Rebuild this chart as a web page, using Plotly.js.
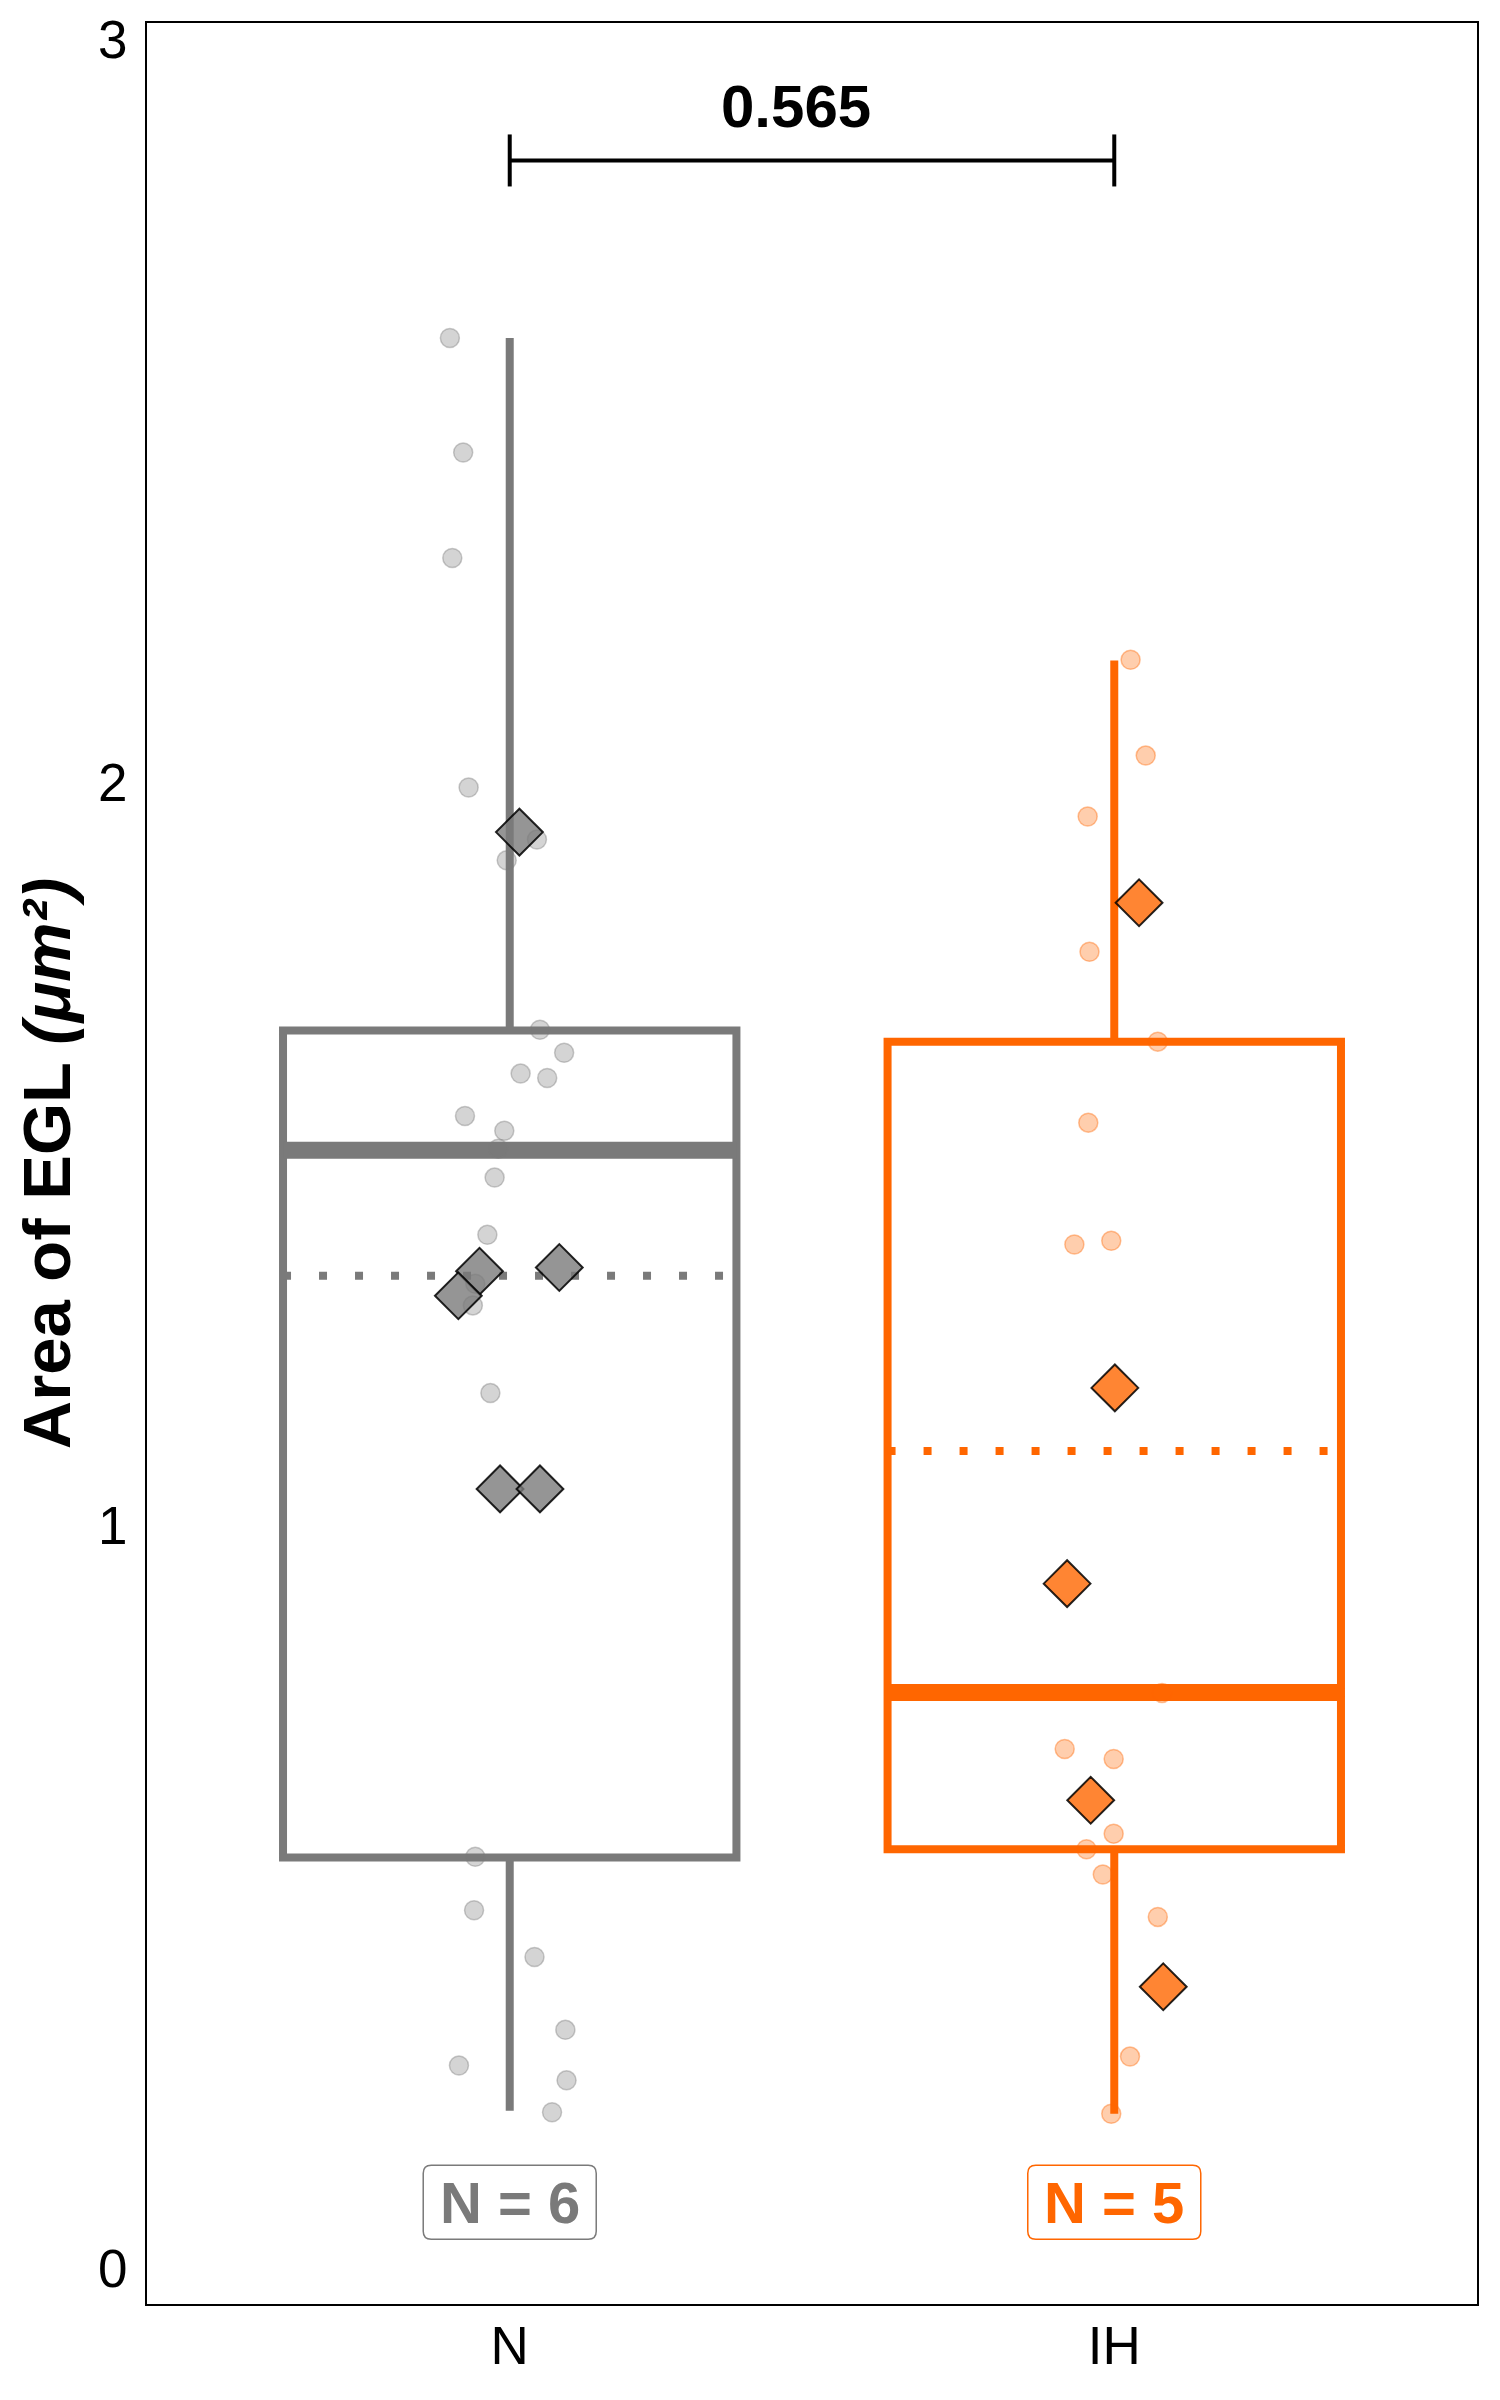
<!DOCTYPE html>
<html>
<head>
<meta charset="utf-8">
<script src="https://cdn.plot.ly/plotly-3.0.1.min.js"></script>
<style>html,body{margin:0;padding:0;background:#fff;}</style>
</head>
<body>
<div id="chart" style="width:1500px;height:2400px;"></div>
<script>
// ---------------- data ----------------
const categories = ['N', 'IH'];
const nLabels = ['N = 6', 'N = 5'];
const pValueText = '0.565';

// box statistics
const boxQ1     = [0.553, 0.564];
const boxMedian = [1.505, 0.775];
const boxQ3     = [1.666, 1.651];
const boxLower  = [0.212, 0.208];
const boxUpper  = [2.598, 2.164];
const boxMean   = [1.336, 1.100];

// individual measurements (grey / peach dots): value and horizontal jitter
const obsN_y  = [2.598, 2.444, 2.302, 1.993, 1.923, 1.895, 1.667, 1.636, 1.608, 1.602, 1.551, 1.531, 1.507,
                 1.468, 1.391, 1.325, 1.296, 1.178, 0.554, 0.482, 0.419, 0.321, 0.273, 0.253, 0.210];
const obsN_dx = [-0.099, -0.077, -0.095, -0.068, 0.045, -0.005, 0.050, 0.090, 0.018, 0.062, -0.074, -0.009, -0.019,
                 -0.025, -0.037, -0.057, -0.061, -0.032, -0.057, -0.059, 0.041, 0.092, -0.084, 0.094, 0.070];
const obsIH_y  = [2.165, 2.036, 1.954, 1.772, 1.651, 1.542, 1.383, 1.378, 0.7745, 0.699, 0.6855, 0.585, 0.564,
                  0.530, 0.473, 0.285, 0.208];
const obsIH_dx = [0.027, 0.052, -0.044, -0.041, 0.072, -0.043, -0.005, -0.066, 0.079, -0.082, -0.001, -0.001, -0.046,
                  -0.019, 0.072, 0.026, -0.005];

// per-animal means (diamonds): value and horizontal jitter
const animalN_y  = [1.933, 1.342, 1.309, 1.347, 1.049, 1.049];
const animalN_dx = [0.016, -0.050, -0.085, 0.082, -0.016, 0.050];
const animalIH_y  = [1.838, 1.185, 0.9215, 0.630, 0.379];
const animalIH_dx = [0.041, 0.001, -0.078, -0.039, 0.081];

// significance bracket
const bracketY = 2.837;
const bracketTick = 0.035;
const pLabelY = 2.91;
const nLabelY = 0.0889;

// ---------------- style ----------------
const FONT = 'Liberation Sans, Arial, Helvetica, sans-serif';
const lineCol = ['#7a7a7a', '#ff6600'];
const dotFill = ['rgba(122,122,122,0.32)', 'rgba(255,102,0,0.32)'];
const dotLine = ['rgba(122,122,122,0.40)', 'rgba(255,102,0,0.40)'];
const diaFill = ['rgba(122,122,122,0.80)', 'rgba(255,102,0,0.80)'];
const boxWidth = 0.75;
const half = boxWidth / 2;

const obsY = [obsN_y, obsIH_y], obsDX = [obsN_dx, obsIH_dx];
const aniY = [animalN_y, animalIH_y], aniDX = [animalN_dx, animalIH_dx];

const traces = [];
categories.forEach((c, i) => {
  traces.push({
    type: 'box', x: [i], q1: [boxQ1[i]], median: [boxMedian[i]], q3: [boxQ3[i]],
    lowerfence: [boxLower[i]], upperfence: [boxUpper[i]],
    width: boxWidth, whiskerwidth: 0, boxpoints: false,
    line: {color: lineCol[i], width: 8}, fillcolor: 'rgba(0,0,0,0)',
    showlegend: false, hoverinfo: 'skip'
  });
});
categories.forEach((c, i) => {
  // thick median
  traces.push({
    type: 'scatter', mode: 'lines', x: [i - half, i + half], y: [boxMedian[i], boxMedian[i]],
    line: {color: lineCol[i], width: 17}, showlegend: false, hoverinfo: 'skip'
  });
  // dotted mean
  traces.push({
    type: 'scatter', mode: 'lines', x: [i - half, i + half], y: [boxMean[i], boxMean[i]],
    line: {color: lineCol[i], width: 8, dash: '8px,28px'}, showlegend: false, hoverinfo: 'skip'
  });
});
categories.forEach((c, i) => {
  traces.push({
    type: 'scatter', mode: 'markers',
    x: obsDX[i].map(d => i + d), y: obsY[i],
    marker: {symbol: 'circle', size: 19, color: dotFill[i], line: {color: dotLine[i], width: 1.5}},
    showlegend: false, hoverinfo: 'skip'
  });
});
categories.forEach((c, i) => {
  traces.push({
    type: 'scatter', mode: 'markers',
    x: aniDX[i].map(d => i + d), y: aniY[i],
    marker: {symbol: 'diamond', size: 36, color: diaFill[i], line: {color: 'rgba(0,0,0,0.85)', width: 2}},
    showlegend: false, hoverinfo: 'skip'
  });
});
// bracket
traces.push({
  type: 'scatter', mode: 'lines',
  x: [0, 0, null, 0, 1, null, 1, 1],
  y: [bracketY + bracketTick, bracketY - bracketTick, null, bracketY, bracketY, null, bracketY + bracketTick, bracketY - bracketTick],
  line: {color: '#000', width: 4}, showlegend: false, hoverinfo: 'skip'
});

const hw = 86.5, hh = 37, r = 8;
const rrPath = `M ${-hw + r},${-hh} L ${hw - r},${-hh} Q ${hw},${-hh} ${hw},${-hh + r} L ${hw},${hh - r} Q ${hw},${hh} ${hw - r},${hh} L ${-hw + r},${hh} Q ${-hw},${hh} ${-hw},${hh - r} L ${-hw},${-hh + r} Q ${-hw},${-hh} ${-hw + r},${-hh} Z`;

const shapes = categories.map((c, i) => ({
  type: 'path', xref: 'x', yref: 'y', xsizemode: 'pixel', ysizemode: 'pixel',
  xanchor: i, yanchor: nLabelY, path: rrPath,
  line: {color: lineCol[i], width: 1.5}, fillcolor: 'rgba(255,255,255,0)'
}));

const annotations = categories.map((c, i) => ({
  x: i, y: nLabelY, xref: 'x', yref: 'y', showarrow: false,
  text: '<b>' + nLabels[i] + '</b>', font: {family: FONT, size: 58, color: lineCol[i]},
  xanchor: 'center', yanchor: 'middle'
}));
annotations.push({
  x: 0.5, y: pLabelY, xref: 'x', yref: 'y', showarrow: false, xshift: -16,
  text: '<b>' + pValueText + '</b>', font: {family: FONT, size: 60, color: '#000'},
  xanchor: 'center', yanchor: 'middle'
});

const layout = {
  width: 1500, height: 2400,
  margin: {l: 147, r: 23, t: 23, b: 96, pad: 0},
  paper_bgcolor: '#fff', plot_bgcolor: '#fff',
  font: {family: FONT, color: '#000'},
  showlegend: false,
  xaxis: {
    range: [-0.6, 1.6], tickvals: [0, 1], ticktext: categories,
    showgrid: false, zeroline: false, ticks: '',
    showline: true, mirror: true, linecolor: '#000', linewidth: 2,
    tickfont: {family: FONT, size: 53, color: '#000'}, ticklabelstandoff: -6
  },
  yaxis: {
    range: [-0.048, 3.022], tickvals: [0, 1, 2, 3], ticktext: ['0', '1', '2', '3'],
    showgrid: false, zeroline: false, ticks: '',
    showline: true, mirror: true, linecolor: '#000', linewidth: 2,
    tickfont: {family: FONT, size: 53, color: '#000'}, ticklabelstandoff: 7,
    title: {text: '<b>Area of EGL <i>(μm²)</i></b>', font: {family: FONT, size: 67, color: '#000'}, standoff: 5}
  },
  shapes: shapes,
  annotations: annotations
};

Plotly.newPlot('chart', traces, layout, {displayModeBar: false, staticPlot: true});
</script>
</body>
</html>
